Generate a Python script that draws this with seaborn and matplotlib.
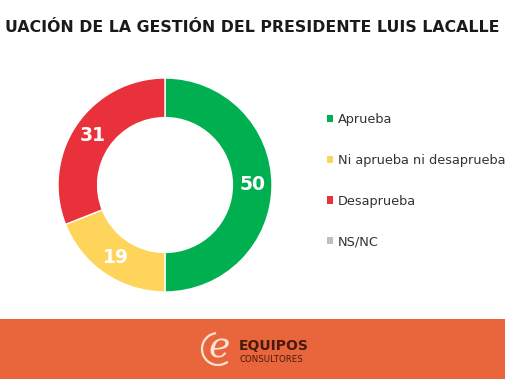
import matplotlib
matplotlib.use("Agg")
import matplotlib.pyplot as plt
import seaborn as sns
import numpy as np
from matplotlib.patches import Patch, Rectangle, Arc

categories = ["Aprueba", "Ni aprueba ni desaprueba", "Desaprueba", "NS/NC"]
values = [50, 19, 31, 0]
colors = ["#00B050", "#FFD45A", "#E8313A", "#BFBFBF"]
title = "UACIÓN DE LA GESTIÓN DEL PRESIDENTE LUIS LACALLE"

sns.set_theme(style="white")
plt.rcParams['font.family'] = ['DejaVu Sans']

W, H = 505, 379
fig = plt.figure(figsize=(W / 100, H / 100), dpi=100)
fig.patch.set_facecolor("white")

# donut
cx, cy, R = 165, 185, 107
ax = fig.add_axes([(cx - R) / W, (H - cy - R) / H, 2 * R / W, 2 * R / H])
pv = [v for v in values if v > 0]
pc = [c for v, c in zip(values, colors) if v > 0]
wedges, _ = ax.pie(pv, colors=pc, startangle=90, counterclock=False,
                   wedgeprops=dict(width=0.37, edgecolor="white", linewidth=1))
start = 90.0
total = sum(pv)
for v in pv:
    span = 360.0 * v / total
    mid = np.deg2rad(start - span / 2)
    ax.text(0.82 * np.cos(mid), 0.82 * np.sin(mid), str(v), ha="center", va="center",
            color="white", fontsize=13.5, fontweight="bold")
    start -= span
ax.set_xlim(-1, 1)
ax.set_ylim(-1, 1)
ax.set_aspect("equal")
ax.axis("off")

# title
fig.text(0.5, 1 - 27 / H, title, ha="center", va="center", fontsize=11.3,
         fontweight="bold", color="#1A1A1A")

# legend
handles = [Patch(facecolor=c, edgecolor="none", label=l) for l, c in zip(categories, colors)]
leg = fig.legend(handles=handles, loc="upper left", bbox_to_anchor=(327 / W, 1 - 113 / H),
                 frameon=False, fontsize=9.3, labelspacing=2.15, handlelength=0.5,
                 handleheight=0.5, handletextpad=0.35, borderaxespad=0, borderpad=0)
for t in leg.get_texts():
    t.set_color("#333333")

# footer
fig.patches.append(Rectangle((0, 0), 1, 60 / H, transform=fig.transFigure,
                             facecolor="#E9653B", edgecolor="none", zorder=0))
fig.text(219 / W, 1 - 348 / H, "e", ha="center", va="center", fontsize=26,
         color="#FBE3D6", fontstyle="italic", family="DejaVu Serif")
fig.patches.append(Arc((218 / W, 1 - 349 / H), 32 / W, 32 / H, theta1=95, theta2=300,
                       transform=fig.transFigure, color="#FBE3D6", linewidth=1.6))
fig.text(239 / W, 1 - 346 / H, "EQUIPOS", ha="left", va="center", fontsize=10,
         fontweight="bold", color="#4A1A0E")
fig.text(239 / W, 1 - 359 / H, "CONSULTORES", ha="left", va="center", fontsize=6.2,
         color="#4A1A0E")

fig.savefig("out.png", dpi=100)
